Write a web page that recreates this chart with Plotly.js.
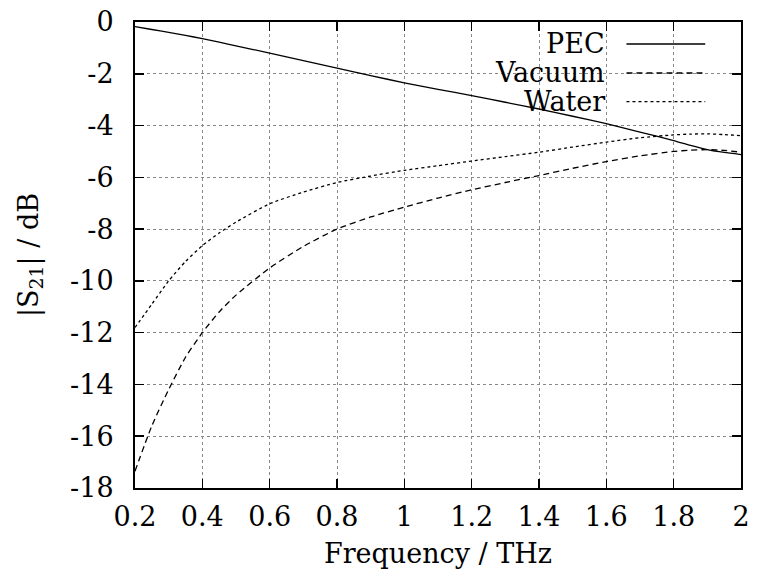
<!DOCTYPE html>
<html>
<head>
<meta charset="utf-8">
<script src="https://cdn.plot.ly/plotly-3.0.1.min.js"></script>
<style>html,body{margin:0;padding:0;background:#fff;}#chart{width:760px;height:581px;}</style>
</head>
<body>
<div id="chart"></div>
<script>
const freq = [0.2,0.25,0.3,0.35,0.4,0.45,0.5,0.6,0.7,0.8,0.9,1.0,1.1,1.2,1.3,1.4,1.5,1.6,1.7,1.8,1.85,1.9,1.95,2.0];
const pec    = [-0.18,-0.29,-0.40,-0.52,-0.64,-0.78,-0.92,-1.2,-1.49,-1.78,-2.07,-2.35,-2.6,-2.84,-3.1,-3.36,-3.64,-3.93,-4.25,-4.58,-4.77,-4.93,-5.04,-5.12];
const vacuum = [-17.35,-15.6,-14.2,-12.95,-12.0,-11.2,-10.55,-9.5,-8.67,-8.0,-7.53,-7.15,-6.8,-6.48,-6.2,-5.93,-5.65,-5.39,-5.17,-5.0,-4.95,-4.93,-4.96,-5.03];
const water  = [-11.8,-10.9,-10.0,-9.25,-8.64,-8.15,-7.73,-7.02,-6.57,-6.2,-5.95,-5.73,-5.55,-5.37,-5.2,-5.03,-4.83,-4.64,-4.47,-4.36,-4.33,-4.32,-4.35,-4.39];
const seriesNames = ["PEC","Vacuum","Water"];
const xTickVals = [0.2,0.4,0.6,0.8,1,1.2,1.4,1.6,1.8,2];
const xTickText = ["0.2","0.4","0.6","0.8","1","1.2","1.4","1.6","1.8","2"];
const yTickVals = [0,-2,-4,-6,-8,-10,-12,-14,-16,-18];
const yTickText = ["0","-2","-4","-6","-8","-10","-12","-14","-16","-18"];

const dashes = ["solid","6px,4px","3px,3px"];
const ys = [pec, vacuum, water];
const traces = ys.map((y,i)=>({
  x: freq, y: y, type:'scatter', mode:'lines', name: seriesNames[i],
  line:{color:'#000', width:1.3, dash:dashes[i], shape:'spline', smoothing:0.6},
  showlegend:false
}));

const font = {family:'DejaVu Serif', size:27, color:'#000'};
const legY = [0.9528, 0.8906, 0.829];
const annotations = seriesNames.map((n,i)=>({
  xref:'paper', yref:'paper', x:0.7797, y:legY[i], xanchor:'right', yanchor:'middle',
  text:n, showarrow:false, font:font
}));
const shapes = [
  {type:'rect', xref:'paper', yref:'paper', x0:0.602, x1:0.969, y0:0.798, y1:0.997, fillcolor:'#fff', line:{width:0}, layer:'between'}
].concat(seriesNames.map((n,i)=>({
  type:'line', xref:'paper', yref:'paper', x0:0.811, x1:0.941, y0:legY[i], y1:legY[i],
  line:{color:'#000', width:1.3, dash:dashes[i]}
})));

const axisCommon = {
  showline:true, linecolor:'#000', linewidth:2, mirror:'ticks',
  ticks:'inside', ticklen:9, tickwidth:1.5, tickcolor:'#000',
  showgrid:true, gridcolor:'#888', gridwidth:1, griddash:'dot',
  zeroline:false, tickfont:font
};

const layout = {
  width:760, height:581,
  margin:{l:135, r:19, t:22, b:93},
  paper_bgcolor:'#fff', plot_bgcolor:'#fff',
  font:font,
  showlegend:false,
  xaxis: Object.assign({}, axisCommon, {
    range:[0.2,2], tickmode:'array', tickvals:xTickVals, ticktext:xTickText,
    ticklabelstandoff:4,
    title:{text:'Frequency / THz', font:font, standoff:13}
  }),
  yaxis: Object.assign({}, axisCommon, {
    range:[-18,0], tickmode:'array', tickvals:yTickVals, ticktext:yTickText,
    ticklabelstandoff:14,
    title:{text:'|S<sub>21</sub>| / dB', font:font, standoff:24}
  }),
  annotations: annotations,
  shapes: shapes
};

Plotly.newPlot('chart', traces, layout, {staticPlot:true, displayModeBar:false});
</script>
</body>
</html>
